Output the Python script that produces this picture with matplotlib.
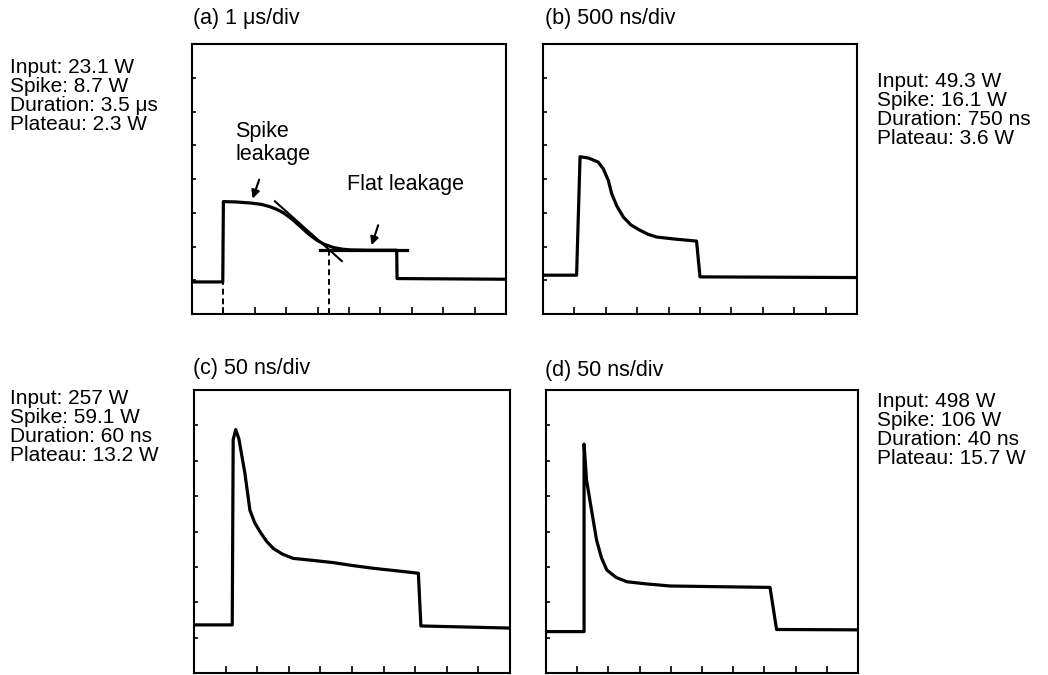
import matplotlib
matplotlib.use('Agg')
import matplotlib.pyplot as plt

W, H = 1048, 675
plt.rcParams['font.family'] = ['Liberation Sans', 'DejaVu Sans']
FS = 15.5
FS_INFO = 15

# ── Traces, in screen divisions (10 across, 8 up) ───────────────────────────
A_T = [0, 0.98, 1.0, 1.4, 1.85, 2.2, 2.48, 2.7, 2.91, 3.2, 3.44, 3.7, 3.97,
       4.2, 4.5, 4.8, 5.03, 5.6, 6.52, 6.53, 10]
A_V = [0.95, 0.95, 3.33, 3.32, 3.29, 3.25, 3.18, 3.10, 3.0, 2.8, 2.6, 2.38,
       2.19, 2.07, 1.97, 1.92, 1.90, 1.89, 1.89, 1.05, 1.03]

B_T = [0, 1.07, 1.18, 1.45, 1.76, 1.92, 2.08, 2.19, 2.35, 2.56, 2.8, 3.09,
       3.35, 3.62, 4.2, 4.89, 5.0, 10]
B_V = [1.15, 1.15, 4.66, 4.62, 4.50, 4.30, 3.96, 3.56, 3.2, 2.87, 2.64, 2.48,
       2.36, 2.28, 2.22, 2.16, 1.10, 1.08]

C_T = [0, 1.21, 1.24, 1.32, 1.42, 1.61, 1.77, 1.92, 2.09, 2.3, 2.51, 2.8,
       3.14, 3.8, 4.41, 5.0, 5.67, 6.4, 7.10, 7.18, 10]
C_V = [1.36, 1.36, 6.6, 6.88, 6.62, 5.65, 4.6, 4.25, 3.99, 3.72, 3.52, 3.36,
       3.24, 3.18, 3.12, 3.04, 2.96, 2.89, 2.82, 1.33, 1.27]

D_T = [0, 1.22, 1.22, 1.30, 1.46, 1.62, 1.78, 1.95, 2.25, 2.59, 3.2, 3.97,
       5.5, 7.18, 7.39, 10]
D_V = [1.17, 1.17, 6.47, 5.45, 4.6, 3.76, 3.25, 2.91, 2.70, 2.58, 2.52, 2.46,
       2.44, 2.42, 1.23, 1.22]

TITLES = ['(a) 1 \u03bcs/div', '(b) 500 ns/div', '(c) 50 ns/div', '(d) 50 ns/div']
INFO = [
    ['Input: 23.1 W', 'Spike: 8.7 W', 'Duration: 3.5 \u03bcs', 'Plateau: 2.3 W'],
    ['Input: 49.3 W', 'Spike: 16.1 W', 'Duration: 750 ns', 'Plateau: 3.6 W'],
    ['Input: 257 W', 'Spike: 59.1 W', 'Duration: 60 ns', 'Plateau: 13.2 W'],
    ['Input: 498 W', 'Spike: 106 W', 'Duration: 40 ns', 'Plateau: 15.7 W'],
]
TRACES = [(A_T, A_V), (B_T, B_V), (C_T, C_V), (D_T, D_V)]

# panel boxes in pixels: left, top, right, bottom
BOXES = [(192, 44, 506, 314), (543, 44, 857, 314),
         (194, 390, 510, 673), (546, 390, 858, 673)]
TITLE_POS = [(193, 24), (545, 24), (193, 374), (545, 376)]
INFO_POS = [(10, [73, 92, 111, 130]), (877, [87, 106, 125, 144]),
            (10, [404, 423, 442, 461]), (877, [407, 426, 445, 464])]


def fx(x):
    return x / W


def fy(y):
    return 1 - y / H


fig = plt.figure(figsize=(W / 100, H / 100), dpi=100, facecolor='white')

axes = []
for (l, t, r, b), (tt, vv), title, (tx, ty), lines, (ix, iys) in zip(
        BOXES, TRACES, TITLES, TITLE_POS, INFO, INFO_POS):
    ax = fig.add_axes([fx(l), fy(b), (r - l) / W, (b - t) / H])
    ax.set_xlim(0, 10)
    ax.set_ylim(0, 8)
    ax.set_xticks(range(1, 10))
    ax.set_yticks(range(1, 8))
    ax.tick_params(axis='x', direction='in', length=5, width=1.2,
                   labelbottom=False)
    ax.tick_params(axis='y', direction='in', length=3, width=1.2,
                   labelleft=False)
    for s in ax.spines.values():
        s.set_linewidth(1.5)
    ax.plot(tt, vv, color='black', lw=2.3, solid_joinstyle='round',
            solid_capstyle='butt', clip_on=False)
    fig.text(fx(tx), fy(ty), title, fontsize=FS, va='baseline', ha='left')
    for txt, iy in zip(lines, iys):
        fig.text(fx(ix), fy(iy), txt, fontsize=FS_INFO, va='baseline',
                 ha='left')
    axes.append(ax)

# annotations for the spike / flat leakage construction in (a)
ax = axes[0]
ax.plot([0.98, 0.98], [0, 0.95], color='black', lw=1.4, ls=(0, (3, 2)))
ax.plot([4.37, 4.37], [0, 1.89], color='black', lw=1.4, ls=(0, (3, 2)))
ax.plot([4.08, 6.84], [1.89, 1.89], color='black', lw=2.3)
ax.plot([2.64, 4.77], [3.34, 1.57], color='black', lw=1.5)
ax.text(1.37, 5.23, 'Spike', fontsize=FS, va='baseline')
ax.text(1.37, 4.55, 'leakage', fontsize=FS, va='baseline')
ax.text(4.93, 3.66, 'Flat leakage', fontsize=FS, va='baseline')
ax.annotate('', xy=(1.93, 3.42), xytext=(2.14, 3.98),
            arrowprops=dict(arrowstyle='-|>', color='black', lw=1.5,
                            mutation_scale=12, shrinkA=0, shrinkB=0))
ax.annotate('', xy=(5.72, 2.04), xytext=(5.93, 2.63),
            arrowprops=dict(arrowstyle='-|>', color='black', lw=1.5,
                            mutation_scale=12, shrinkA=0, shrinkB=0))

fig.savefig('out.png', dpi=100, facecolor='white')
